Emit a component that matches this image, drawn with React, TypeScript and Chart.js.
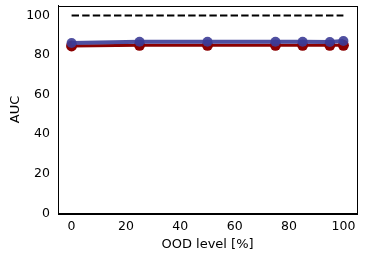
import React, { useEffect, useRef } from "react";
import { Chart, registerables } from "chart.js";

Chart.register(...registerables);

const oodLevels = [0, 25, 50, 75, 85, 95, 100];
const seriesBlue = [86.1, 86.7, 86.7, 86.7, 86.7, 86.6, 87.1];
const seriesRed = [84.6, 84.9, 84.9, 84.9, 84.9, 84.9, 84.9];
const referenceLine = [100, 100];
const referenceX = [0, 100];
const xTicks = [0, 20, 40, 60, 80, 100];
const yTicks = [0, 20, 40, 60, 80, 100];

const boxPlugin = {
  id: "box",
  afterDraw(chart: any) {
    const { ctx, chartArea } = chart;
    ctx.save();
    ctx.strokeStyle = "#000";
    ctx.lineWidth = 1;
    ctx.strokeRect(
      Math.round(chartArea.left) + 0.5,
      Math.round(chartArea.top) + 0.5,
      Math.round(chartArea.right - chartArea.left),
      Math.round(chartArea.bottom - chartArea.top)
    );
    ctx.restore();
  },
};

export default function App() {
  const ref = useRef<HTMLCanvasElement>(null);
  useEffect(() => {
    document.body.style.margin = "0";
    const font = { family: "DejaVu Sans", size: 12.5 };
    const chart = new Chart(ref.current!, {
      type: "line",
      data: {
        datasets: [
          {
            data: referenceX.map((x, i) => ({ x, y: referenceLine[i] })),
            borderColor: "#000",
            borderWidth: 2,
            borderDash: [7.4, 3.2],
            pointRadius: 0,
            fill: false,
          },
          {
            data: oodLevels.map((x, i) => ({ x, y: seriesBlue[i] })),
            borderColor: "rgba(60,60,150,0.9)",
            backgroundColor: "rgba(60,60,150,0.9)",
            borderWidth: 4,
            pointRadius: 5,
            pointBorderWidth: 0,
            fill: false,
          },
          {
            data: oodLevels.map((x, i) => ({ x, y: seriesRed[i] })),
            borderColor: "#8b0000",
            backgroundColor: "#8b0000",
            borderWidth: 3,
            pointRadius: 5.5,
            pointBorderWidth: 0,
            fill: false,
          },
        ],
      },
      options: {
        responsive: false,
        animation: false,
        layout: { padding: { top: 5, right: 9, left: 8, bottom: 4 } },
        plugins: { legend: { display: false }, tooltip: { enabled: false } },
        scales: {
          x: {
            type: "linear",
            min: -5,
            max: 105,
            afterBuildTicks: (axis: any) => {
              axis.ticks = xTicks.map((v) => ({ value: v }));
            },
            afterFit: (axis: any) => {
              axis.paddingLeft = 0;
              axis.paddingRight = 0;
            },
            grid: { display: false, drawTicks: true, tickLength: 4, tickColor: "#000" } as any,
            border: { color: "#000" },
            ticks: { color: "#000", font, padding: 2, maxRotation: 0 },
            title: { display: true, text: "OOD level [%]", color: "#000", font: { family: "DejaVu Sans", size: 13 }, padding: { top: 0, bottom: 4 } },
          },
          y: {
            type: "linear",
            min: 0,
            max: 105,
            afterBuildTicks: (axis: any) => {
              axis.ticks = yTicks.map((v) => ({ value: v }));
            },
            afterFit: (axis: any) => {
              axis.width = 50;
              axis.paddingTop = 0;
              axis.paddingBottom = 0;
            },
            grid: { display: false, drawTicks: true, tickLength: 4, tickColor: "#000" } as any,
            border: { color: "#000" },
            ticks: { color: "#000", font, padding: 4 },
            title: { display: true, text: "AUC", color: "#000", font: { family: "DejaVu Sans", size: 13 }, padding: { top: 0, bottom: 6 } },
          },
        },
      },
      plugins: [boxPlugin],
    });
    return () => chart.destroy();
  }, []);
  return <canvas ref={ref} width={366} height={260} style={{ display: "block" }} />;
}
